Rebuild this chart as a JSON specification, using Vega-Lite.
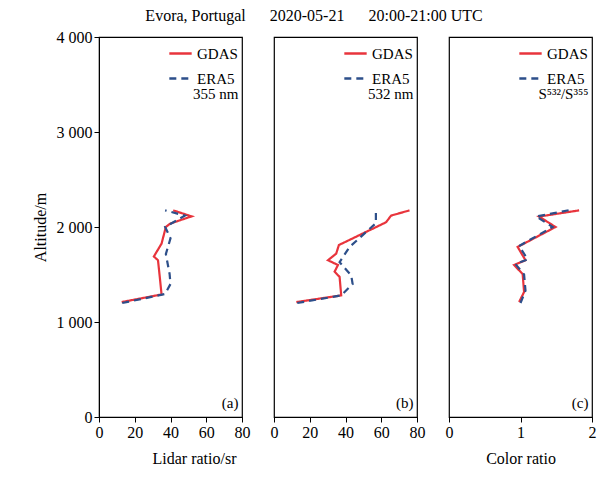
{
  "$schema": "https://vega.github.io/schema/vega-lite/v6.json",
  "padding": {"left": 31, "top": 8, "right": 2, "bottom": 5},
  "title": {"text": "Evora, Portugal\u00a0\u00a0\u00a0\u00a0\u00a0\u00a02020-05-21\u00a0\u00a0\u00a0\u00a0\u00a0\u00a020:00-21:00 UTC", "fontSize": 16, "fontWeight": "normal", "font": "Liberation Serif", "offset": 4, "anchor": "middle"},
  "datasets": {
    "a": [
      {"m": "GDAS", "x": 12.7, "alt": 1210}, {"m": "GDAS", "x": 35, "alt": 1290}, {"m": "GDAS", "x": 34, "alt": 1474},
      {"m": "GDAS", "x": 33, "alt": 1650}, {"m": "GDAS", "x": 30.7, "alt": 1690}, {"m": "GDAS", "x": 35, "alt": 1825},
      {"m": "GDAS", "x": 37.4, "alt": 2000}, {"m": "GDAS", "x": 39.7, "alt": 2035}, {"m": "GDAS", "x": 51.8, "alt": 2112},
      {"m": "GDAS", "x": 41.5, "alt": 2175},
      {"m": "ERA5", "x": 13, "alt": 1200}, {"m": "ERA5", "x": 37, "alt": 1295}, {"m": "ERA5", "x": 40, "alt": 1400},
      {"m": "ERA5", "x": 39.5, "alt": 1505}, {"m": "ERA5", "x": 37.4, "alt": 1715}, {"m": "ERA5", "x": 40, "alt": 1880},
      {"m": "ERA5", "x": 37, "alt": 2000}, {"m": "ERA5", "x": 48, "alt": 2120}, {"m": "ERA5", "x": 37, "alt": 2175}
    ],
    "b": [
      {"m": "GDAS", "x": 12.5, "alt": 1210}, {"m": "GDAS", "x": 37.6, "alt": 1280}, {"m": "GDAS", "x": 36.7, "alt": 1475},
      {"m": "GDAS", "x": 33.9, "alt": 1530}, {"m": "GDAS", "x": 35.8, "alt": 1600}, {"m": "GDAS", "x": 30.2, "alt": 1650},
      {"m": "GDAS", "x": 34.8, "alt": 1720}, {"m": "GDAS", "x": 36.3, "alt": 1810}, {"m": "GDAS", "x": 62.7, "alt": 2050},
      {"m": "GDAS", "x": 65.5, "alt": 2120}, {"m": "GDAS", "x": 75.8, "alt": 2175},
      {"m": "ERA5", "x": 13, "alt": 1200}, {"m": "ERA5", "x": 37.6, "alt": 1280}, {"m": "ERA5", "x": 44, "alt": 1400},
      {"m": "ERA5", "x": 43.2, "alt": 1490}, {"m": "ERA5", "x": 36.7, "alt": 1630}, {"m": "ERA5", "x": 42.3, "alt": 1790},
      {"m": "ERA5", "x": 57, "alt": 2040}, {"m": "ERA5", "x": 57, "alt": 2175}
    ],
    "c": [
      {"m": "GDAS", "x": 0.98, "alt": 1210}, {"m": "GDAS", "x": 1.05, "alt": 1315}, {"m": "GDAS", "x": 1.03, "alt": 1505},
      {"m": "GDAS", "x": 0.91, "alt": 1600}, {"m": "GDAS", "x": 1.07, "alt": 1650}, {"m": "GDAS", "x": 0.96, "alt": 1790},
      {"m": "GDAS", "x": 1.49, "alt": 2000}, {"m": "GDAS", "x": 1.26, "alt": 2110}, {"m": "GDAS", "x": 1.82, "alt": 2175},
      {"m": "ERA5", "x": 1.0, "alt": 1200}, {"m": "ERA5", "x": 1.07, "alt": 1330}, {"m": "ERA5", "x": 1.05, "alt": 1500},
      {"m": "ERA5", "x": 0.93, "alt": 1610}, {"m": "ERA5", "x": 1.1, "alt": 1660}, {"m": "ERA5", "x": 0.98, "alt": 1800},
      {"m": "ERA5", "x": 1.45, "alt": 2000}, {"m": "ERA5", "x": 1.22, "alt": 2110}, {"m": "ERA5", "x": 1.7, "alt": 2180}
    ]
  },
  "spacing": 18,
  "resolve": {"scale": {"color": "independent", "strokeDash": "independent"}},
  "hconcat": [
    {
      "width": 143, "height": 380,
      "layer": [
        {
          "data": {"name": "a"},
          "mark": {"type": "line", "strokeWidth": 2.2},
          "encoding": {
            "x": {"field": "x", "type": "quantitative", "scale": {"domain": [0, 80]}, "axis": {"values": [0, 20, 40, 60, 80], "tickCount": 5, "labelOverlap": false, "title": "Lidar ratio/sr", "titleX": 95, "titlePadding": 10}},
            "y": {"field": "alt", "type": "quantitative", "scale": {"domain": [0, 4000]}, "axis": {"values": [0, 1000, 2000, 3000, 4000], "title": "Altitude/m", "labelExpr": "replace(format(datum.value, ','), ',', ' ')", "titlePadding": 8}},
            "order": {"field": "alt"},
            "color": {"field": "m", "type": "nominal", "sort": ["GDAS", "ERA5"], "scale": {"domain": ["GDAS", "ERA5"], "range": ["#e8343c", "#2d4f8a"]}, "legend": {"title": null, "orient": "top-right"}},
            "strokeDash": {"field": "m", "type": "nominal", "sort": ["GDAS", "ERA5"], "scale": {"domain": ["GDAS", "ERA5"], "range": [[1, 0], [7, 5]]}, "legend": {"title": null, "orient": "top-right"}}
          }
        },
        {
          "data": {"values": [{"t": "355 nm", "x": 78, "alt": 3400}, {"t": "(a)", "x": 78, "alt": 150}]},
          "mark": {"type": "text", "align": "right", "fontSize": 15, "font": "Liberation Serif"},
          "encoding": {"x": {"field": "x", "type": "quantitative"}, "y": {"field": "alt", "type": "quantitative"}, "text": {"field": "t"}}
        }
      ]
    },
    {
      "width": 143, "height": 380,
      "layer": [
        {
          "data": {"name": "b"},
          "mark": {"type": "line", "strokeWidth": 2.2},
          "encoding": {
            "x": {"field": "x", "type": "quantitative", "scale": {"domain": [0, 80]}, "axis": {"values": [0, 20, 40, 60, 80], "tickCount": 5, "labelOverlap": false, "title": null}},
            "y": {"field": "alt", "type": "quantitative", "scale": {"domain": [0, 4000]}, "axis": null},
            "order": {"field": "alt"},
            "color": {"field": "m", "type": "nominal", "sort": ["GDAS", "ERA5"], "scale": {"domain": ["GDAS", "ERA5"], "range": ["#e8343c", "#2d4f8a"]}, "legend": {"title": null, "orient": "top-right"}},
            "strokeDash": {"field": "m", "type": "nominal", "sort": ["GDAS", "ERA5"], "scale": {"domain": ["GDAS", "ERA5"], "range": [[1, 0], [7, 5]]}, "legend": {"title": null, "orient": "top-right"}}
          }
        },
        {
          "data": {"values": [{"t": "532 nm", "x": 78, "alt": 3400}, {"t": "(b)", "x": 78, "alt": 150}]},
          "mark": {"type": "text", "align": "right", "fontSize": 15, "font": "Liberation Serif"},
          "encoding": {"x": {"field": "x", "type": "quantitative"}, "y": {"field": "alt", "type": "quantitative"}, "text": {"field": "t"}}
        }
      ]
    },
    {
      "width": 143, "height": 380,
      "layer": [
        {
          "data": {"name": "c"},
          "mark": {"type": "line", "strokeWidth": 2.2},
          "encoding": {
            "x": {"field": "x", "type": "quantitative", "scale": {"domain": [0, 2]}, "axis": {"values": [0, 1, 2], "tickCount": 10, "labelOverlap": false, "labelExpr": "datum.value", "title": "Color ratio", "titlePadding": 10}},
            "y": {"field": "alt", "type": "quantitative", "scale": {"domain": [0, 4000]}, "axis": null},
            "order": {"field": "alt"},
            "color": {"field": "m", "type": "nominal", "sort": ["GDAS", "ERA5"], "scale": {"domain": ["GDAS", "ERA5"], "range": ["#e8343c", "#2d4f8a"]}, "legend": {"title": null, "orient": "top-right"}},
            "strokeDash": {"field": "m", "type": "nominal", "sort": ["GDAS", "ERA5"], "scale": {"domain": ["GDAS", "ERA5"], "range": [[1, 0], [7, 5]]}, "legend": {"title": null, "orient": "top-right"}}
          }
        },
        {
          "data": {"values": [{"t": "S⁵³²/S³⁵⁵", "x": 1.95, "alt": 3400}, {"t": "(c)", "x": 1.95, "alt": 150}]},
          "mark": {"type": "text", "align": "right", "fontSize": 15, "font": "Liberation Serif"},
          "encoding": {"x": {"field": "x", "type": "quantitative"}, "y": {"field": "alt", "type": "quantitative"}, "text": {"field": "t"}}
        }
      ]
    }
  ],
  "config": {
    "font": "Liberation Serif",
    "view": {"stroke": "black", "strokeWidth": 1.2},
    "axis": {"grid": false, "domainColor": "black", "tickColor": "black", "labelColor": "black", "titleColor": "black", "labelFontSize": 16, "titleFontSize": 16, "titleFontWeight": "normal", "labelFont": "Liberation Serif", "titleFont": "Liberation Serif", "tickSize": 5, "labelFlush": false},
    "legend": {"labelFontSize": 15, "labelFont": "Liberation Serif", "symbolType": "stroke", "symbolSize": 500, "symbolStrokeWidth": 2.5, "offset": 4, "padding": 0, "rowPadding": 4, "labelColor": "black"}
  }
}
